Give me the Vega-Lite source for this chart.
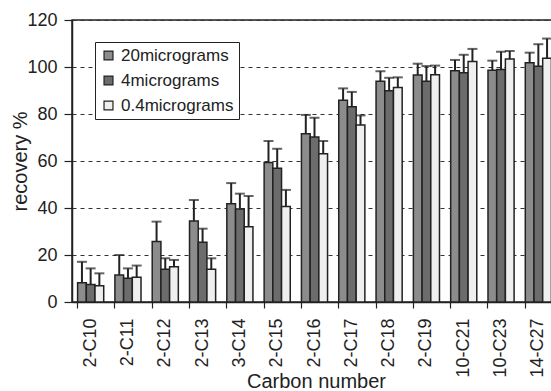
{
  "$schema": "https://vega.github.io/schema/vega-lite/v6.json",
  "width": 485,
  "height": 282,
  "autosize": {"type": "none"},
  "padding": {"left": 72, "top": 20, "right": 0, "bottom": 89},
  "background": "white",
  "config": {
    "font": "Liberation Sans",
    "view": {"stroke": "#222", "strokeWidth": 1.5},
    "axis": {"labelFont": "Liberation Sans", "titleFont": "Liberation Sans", "labelFontSize": 18, "titleFontSize": 20, "titleFontWeight": "normal", "labelColor": "#222", "titleColor": "#222", "domainColor": "#222", "tickColor": "#222", "domainWidth": 1.5, "tickWidth": 1.2}
  },
  "data": {
    "values": [
      {"cat": "2-C10", "series": "20micrograms", "value": 8.2, "err": 17.1},
      {"cat": "2-C10", "series": "4micrograms", "value": 7.5, "err": 14.3},
      {"cat": "2-C10", "series": "0.4micrograms", "value": 6.9, "err": 12.2},
      {"cat": "2-C11", "series": "20micrograms", "value": 11.5, "err": 20.0},
      {"cat": "2-C11", "series": "4micrograms", "value": 10.1, "err": 14.3},
      {"cat": "2-C11", "series": "0.4micrograms", "value": 10.5, "err": 15.5},
      {"cat": "2-C12", "series": "20micrograms", "value": 25.7, "err": 34.2},
      {"cat": "2-C12", "series": "4micrograms", "value": 13.9, "err": 18.6},
      {"cat": "2-C12", "series": "0.4micrograms", "value": 15.0, "err": 17.9},
      {"cat": "2-C13", "series": "20micrograms", "value": 34.5, "err": 43.4},
      {"cat": "2-C13", "series": "4micrograms", "value": 25.4, "err": 31.2},
      {"cat": "2-C13", "series": "0.4micrograms", "value": 13.9, "err": 18.6},
      {"cat": "3-C14", "series": "20micrograms", "value": 41.8, "err": 50.6},
      {"cat": "3-C14", "series": "4micrograms", "value": 39.6, "err": 46.1},
      {"cat": "3-C14", "series": "0.4micrograms", "value": 32.0, "err": 45.1},
      {"cat": "2-C15", "series": "20micrograms", "value": 59.4, "err": 68.5},
      {"cat": "2-C15", "series": "4micrograms", "value": 56.9, "err": 65.2},
      {"cat": "2-C15", "series": "0.4micrograms", "value": 40.6, "err": 47.7},
      {"cat": "2-C16", "series": "20micrograms", "value": 71.6, "err": 79.6},
      {"cat": "2-C16", "series": "4micrograms", "value": 70.2, "err": 78.4},
      {"cat": "2-C16", "series": "0.4micrograms", "value": 63.1, "err": 68.5},
      {"cat": "2-C17", "series": "20micrograms", "value": 85.8, "err": 90.9},
      {"cat": "2-C17", "series": "4micrograms", "value": 83.1, "err": 89.4},
      {"cat": "2-C17", "series": "0.4micrograms", "value": 75.3, "err": 79.4},
      {"cat": "2-C18", "series": "20micrograms", "value": 93.9, "err": 98.2},
      {"cat": "2-C18", "series": "4micrograms", "value": 89.9, "err": 95.4},
      {"cat": "2-C18", "series": "0.4micrograms", "value": 91.3, "err": 95.6},
      {"cat": "2-C19", "series": "20micrograms", "value": 96.6, "err": 101.4},
      {"cat": "2-C19", "series": "4micrograms", "value": 93.9, "err": 100.4},
      {"cat": "2-C19", "series": "0.4micrograms", "value": 96.7, "err": 100.6},
      {"cat": "10-C21", "series": "20micrograms", "value": 98.4, "err": 103.0},
      {"cat": "10-C21", "series": "4micrograms", "value": 97.6, "err": 105.2},
      {"cat": "10-C21", "series": "0.4micrograms", "value": 102.3, "err": 107.7},
      {"cat": "10-C23", "series": "20micrograms", "value": 98.6, "err": 102.7},
      {"cat": "10-C23", "series": "4micrograms", "value": 98.9, "err": 106.5},
      {"cat": "10-C23", "series": "0.4micrograms", "value": 103.4, "err": 106.8},
      {"cat": "14-C27", "series": "20micrograms", "value": 101.8, "err": 106.1},
      {"cat": "14-C27", "series": "4micrograms", "value": 100.3, "err": 109.7},
      {"cat": "14-C27", "series": "0.4micrograms", "value": 103.7, "err": 112.1}
    ]
  },
  "encoding": {
    "x": {
      "field": "cat", "type": "nominal", "sort": null,
      "scale": {"paddingInner": 0.3, "paddingOuter": 0.15},
      "axis": {"title": "Carbon number", "labelAngle": -90, "labelAlign": "right", "labelBaseline": "middle", "bandPosition": 0, "tickSize": 6, "labelPadding": 10, "titleX": 244, "titleY": 85, "titleBaseline": "alphabetic", "grid": false}
    },
    "xOffset": {"field": "series", "type": "nominal", "sort": ["20micrograms", "4micrograms", "0.4micrograms"], "scale": {"paddingInner": 0, "paddingOuter": 0}}
  },
  "layer": [
    {
      "mark": {"type": "rule", "stroke": "#222", "strokeWidth": 2},
      "encoding": {
        "y": {"field": "value", "type": "quantitative"},
        "y2": {"field": "err"}
      }
    },
    {
      "mark": {"type": "tick", "color": "#222", "thickness": 2, "size": 10},
      "encoding": {
        "y": {"field": "err", "type": "quantitative"}
      }
    },
    {
      "mark": {"type": "bar", "stroke": "#222", "strokeWidth": 1.5},
      "encoding": {
        "y": {
          "field": "value", "type": "quantitative",
          "scale": {"domain": [0, 120]},
          "axis": {"title": "recovery %", "values": [0, 20, 40, 60, 80, 100, 120], "tickSize": 8, "labelPadding": 7, "titleX": -46, "titleY": 141, "titleBaseline": "alphabetic", "grid": true, "gridDash": [4, 4], "gridColor": "#333", "gridWidth": 1}
        },
        "color": {
          "field": "series", "type": "nominal",
          "scale": {"domain": ["20micrograms", "4micrograms", "0.4micrograms"], "range": ["#8c8c8c", "#6c6c6c", "#efefef"]},
          "legend": {
            "title": null, "orient": "none", "legendX": 23, "legendY": 22,
            "symbolType": "square", "symbolSize": 80, "symbolStrokeColor": "#222", "symbolStrokeWidth": 1.2,
            "labelFontSize": 17, "labelFont": "Liberation Sans", "labelColor": "#222",
            "rowPadding": 7, "padding": 5, "strokeColor": "#222", "fillColor": "white", "labelOffset": 4
          }
        }
      }
    }
  ]
}
